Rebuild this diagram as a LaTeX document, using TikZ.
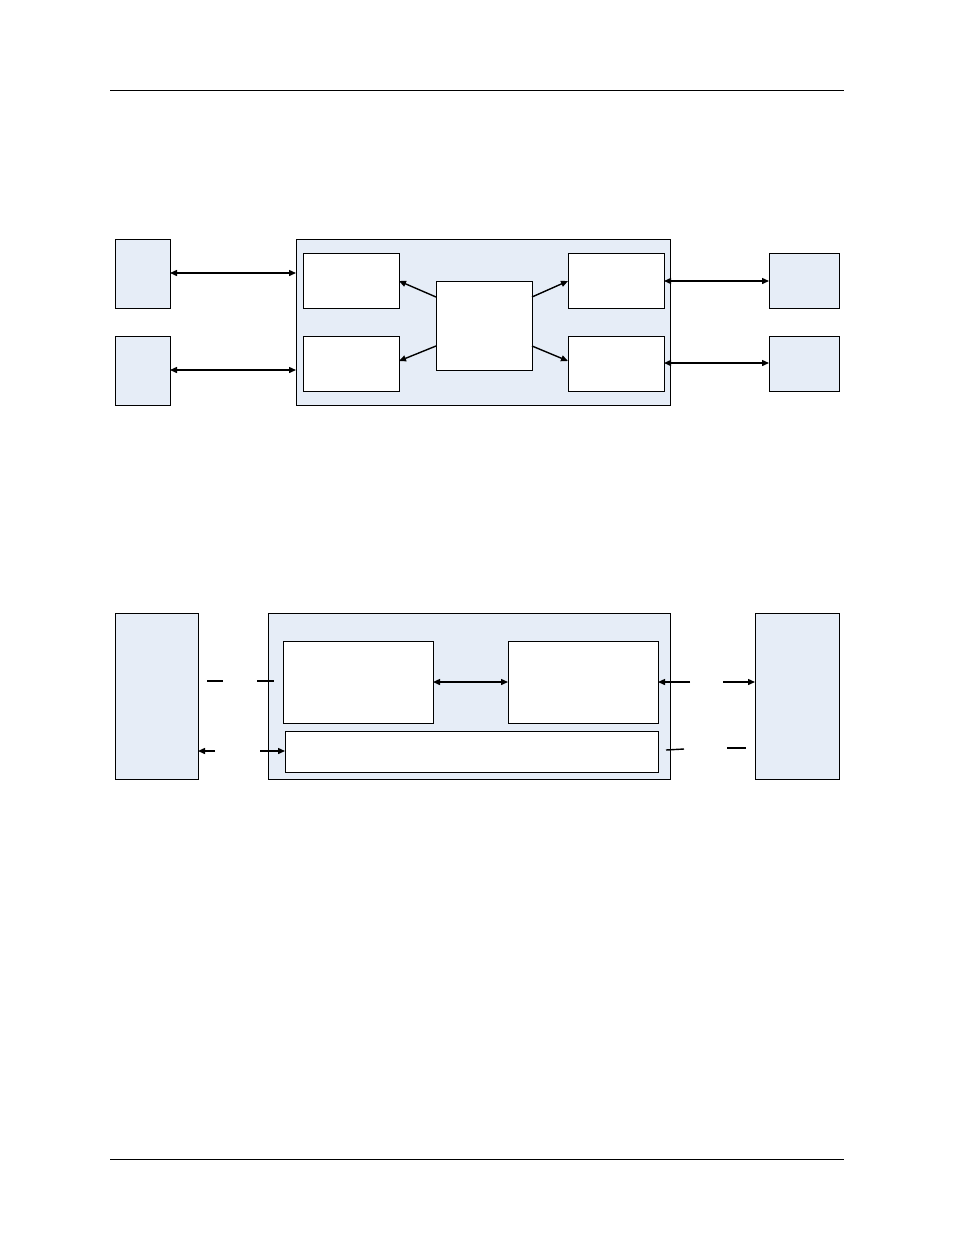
\documentclass[tikz,border=0pt]{standalone}
\usetikzlibrary{arrows.meta}
\definecolor{pale}{HTML}{E6EDF7}
\begin{document}
\begin{tikzpicture}[x=1pt,y=-1pt,
  blk/.style={draw,fill=pale,line width=0.8pt},
  wb/.style={draw,fill=white,line width=0.8pt},
  con/.style={line width=1.4pt,-{Triangle[length=7pt,width=6pt]}},
  dcon/.style={line width=1.4pt,{Triangle[length=7pt,width=6pt]}-{Triangle[length=7pt,width=6pt]}},
  seg/.style={line width=1.4pt}]
\useasboundingbox (0,0) rectangle (954,1235);
\draw[line width=0.6pt] (110,90) coordinate(h1) -- (844,90) coordinate(h2);
\draw[line width=0.6pt] (110,1159) coordinate(f1) -- (844,1159) coordinate(f2);
% top diagram
\path[blk] (115,239) rectangle (170,308); \coordinate (L1) at (170,273);
\path[blk] (115,336) rectangle (170,405); \coordinate (L2) at (170,370);
\path[blk] (296,239) rectangle (670,405);
\coordinate (M1) at (296,273); \coordinate (M2) at (296,370);
\path[wb] (303,253) rectangle (399,308);
\path[wb] (303,336) rectangle (399,391);
\path[wb] (436,281) rectangle (532,370);
\path[wb] (568,253) rectangle (664,308);
\path[wb] (568,336) rectangle (664,391);
\path[blk] (769,253) rectangle (839,308);
\path[blk] (769,336) rectangle (839,391);
\draw[dcon] (L1) -- (M1);
\draw[dcon] (L2) -- (M2);
\draw[con] (436,297) -- (399,281);
\draw[con] (436,346) -- (399,361);
\draw[con] (532,297) -- (568,281);
\draw[con] (532,346) -- (568,361);
\draw[dcon] (664,281) -- (769,281);
\draw[dcon] (664,363) -- (769,363);
% bottom diagram
\path[blk] (115,613) rectangle (198,779);
\path[blk] (268,613) rectangle (670,779);
\path[wb] (283,641) rectangle (433,723);
\path[wb] (508,641) rectangle (658,723);
\path[wb] (285,731) rectangle (658,772);
\path[blk] (755,613) rectangle (839,779);
\draw[seg] (207,681) -- (223,681);
\draw[seg] (257,681) -- (274,681);
\draw[dcon] (433,682) -- (508,682);
\draw[con] (690,682) -- (658,682);
\draw[con] (723,682) -- (755,682);
\draw[con] (215,751) -- (198,751);
\draw[con] (260,751) -- (285,751);
\draw[seg] (666,750) -- (684,749);
\draw[seg] (727,748) -- (746,748);
\end{tikzpicture}
\end{document}
